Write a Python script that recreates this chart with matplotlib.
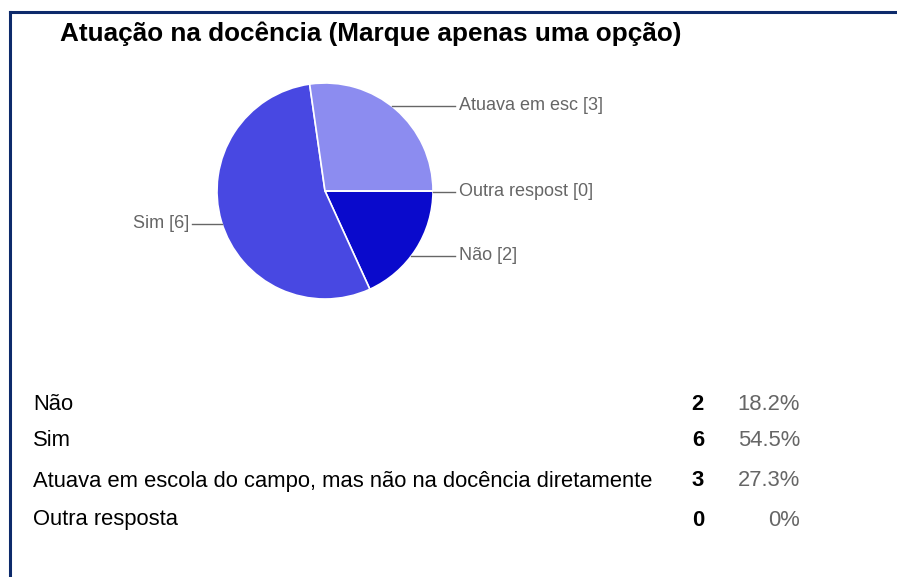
import matplotlib.pyplot as plt
import numpy as np

# dados do grafico
titulo = "Atuação na docência (Marque apenas uma opção)"
categorias = ["Não", "Sim", "Atuava em escola do campo, mas não na docência diretamente", "Outra resposta"]
rotulos_pizza = ["Não [2]", "Sim [6]", "Atuava em esc [3]", "Outra respost [0]"]
contagens = [2, 6, 3, 0]
percentuais = ["18.2%", "54.5%", "27.3%", "0%"]
cores = ["#0a0acc", "#4848e2", "#8c8cf0", "#b0b0f5"]

W, H = 897, 577
plt.rcParams['font.family'] = ['Liberation Sans', 'DejaVu Sans']
fig = plt.figure(figsize=(W / 100, H / 100), dpi=100)
ax = fig.add_axes([0, 0, 1, 1])

# pizza (coordenadas em pixels, y para cima)
cx, cy, r = 325, H - 191, 108
wedges, _ = ax.pie(contagens, colors=cores, startangle=0, counterclock=False,
                   center=(cx, cy), radius=r,
                   wedgeprops=dict(edgecolor="white", linewidth=1.2))
ax.set_xlim(0, W)
ax.set_ylim(0, H)
ax.set_aspect("equal")
ax.axis("off")

# rotulos com linha guia (altura do rotulo em pixels a partir do topo)
rotulo_y = [256, 224, 106, 192]
for w, lab, ly in zip(wedges, rotulos_pizza, rotulo_y):
    ang = np.deg2rad((w.theta1 + w.theta2) / 2)
    y0 = H - ly
    dx = np.sqrt(max(r ** 2 - (y0 - cy) ** 2, 0))
    if np.cos(ang) >= 0:
        x0 = cx + dx
        ax.plot([x0, 455], [y0, y0], color="#666666", lw=1)
        ax.text(459, y0, lab, color="#666666", fontsize=13, va="center", ha="left")
    else:
        x0 = cx - dx
        ax.plot([192, x0], [y0, y0], color="#666666", lw=1)
        ax.text(189, y0, lab, color="#666666", fontsize=13, va="center", ha="right")

# titulo
ax.text(60, H - 34, titulo, fontsize=18.8, fontweight="bold", va="center", ha="left", color="black")

# tabela
linhas_y = [404, 441, 481, 520]
for yy, cat, n, p in zip(linhas_y, categorias, contagens, percentuais):
    ax.text(33, H - yy, cat, fontsize=15.8, va="center", ha="left", color="black")
    ax.text(704, H - yy, str(n), fontsize=15.8, fontweight="bold", va="center", ha="right", color="black")
    ax.text(800, H - yy, p, fontsize=15.8, va="center", ha="right", color="#666666")

# borda
ax.plot([10, W], [H - 12, H - 12], color="#0d2a6b", lw=2.2, clip_on=False)
ax.plot([10, 10], [H - 12, 0], color="#0d2a6b", lw=2.2, clip_on=False)

fig.savefig("out.png", dpi=100)
